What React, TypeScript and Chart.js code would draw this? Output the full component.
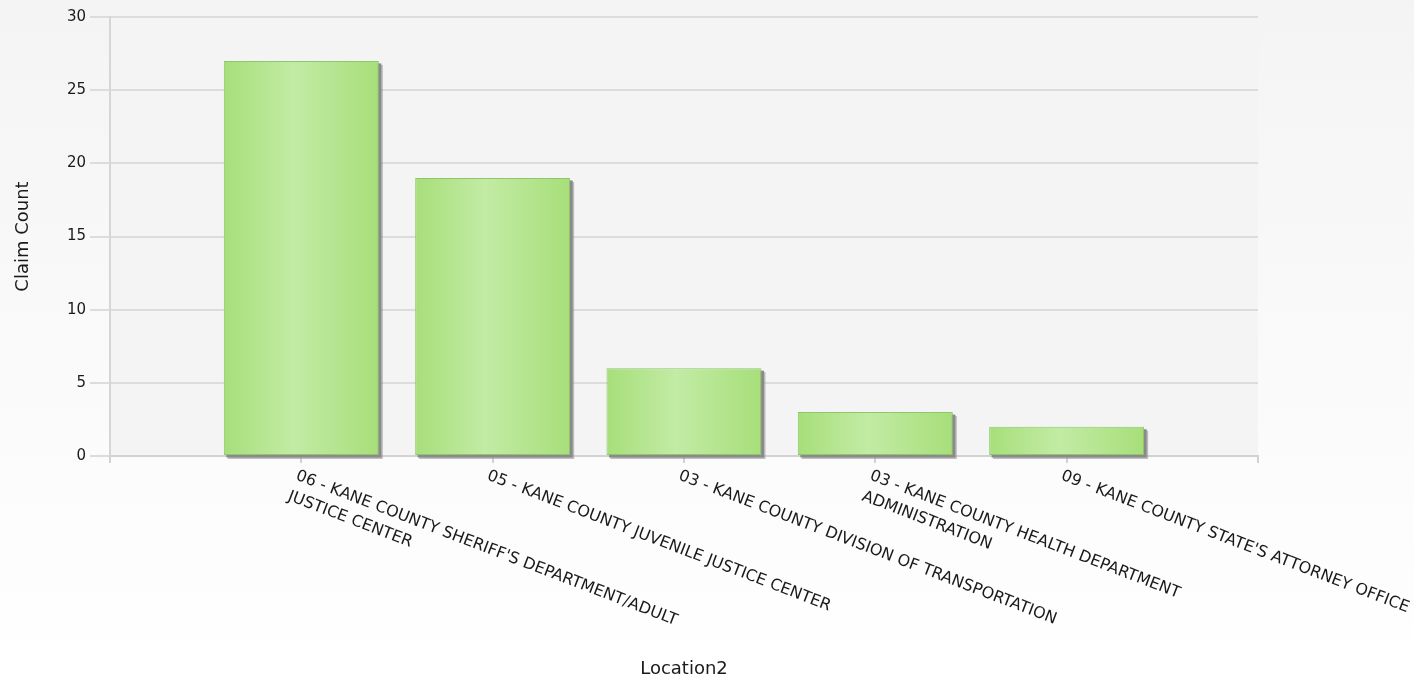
import React, { useEffect, useRef } from "react";
import { Chart, registerables } from "chart.js";

Chart.register(...registerables);

const categories: string[][] = [
  ["06 - KANE COUNTY SHERIFF'S DEPARTMENT/ADULT", "JUSTICE CENTER"],
  ["05 - KANE COUNTY JUVENILE JUSTICE CENTER"],
  ["03 - KANE COUNTY DIVISION OF TRANSPORTATION"],
  ["03 - KANE COUNTY HEALTH DEPARTMENT", "ADMINISTRATION"],
  ["09 - KANE COUNTY STATE'S ATTORNEY OFFICE"],
];
const claimCounts: number[] = [27, 19, 6, 3, 2];
const yTicks = { min: 0, max: 30, step: 5 };
const yTitle = "Claim Count";
const xTitle = "Location2";

const FONT = '"DejaVu Sans", Verdana, sans-serif';
const TEXT = "#1a1a1a";
const BAR_RATIO = 0.9 * 0.9;

const bgPlugin = {
  id: "bgPlugin",
  beforeDraw(chart: any) {
    const { ctx, width, height, chartArea } = chart;
    ctx.save();
    const g = ctx.createLinearGradient(0, 0, 0, height);
    g.addColorStop(0, "#f4f4f4");
    g.addColorStop(1, "#ffffff");
    ctx.fillStyle = g;
    ctx.fillRect(0, 0, width, height);
    ctx.fillStyle = "#f4f4f4";
    ctx.fillRect(chartArea.left, chartArea.top, chartArea.right - chartArea.left, chartArea.bottom - chartArea.top);
    ctx.restore();
  },
};

const shadowPlugin = {
  id: "shadowPlugin",
  beforeDatasetsDraw(chart: any) {
    const { ctx } = chart;
    const meta = chart.getDatasetMeta(0);
    ctx.save();
    meta.data.forEach((el: any, i: number) => {
      const v = chart.data.datasets[0].data[i];
      if (v == null) return;
      const { x, y, base, width } = el.getProps(["x", "y", "base", "width"], true);
      const left = x - width / 2;
      ctx.fillStyle = "rgba(140,140,140,0.55)";
      ctx.fillRect(left + 4, y + 4, width, base - y);
      ctx.fillStyle = "#8a8a8a";
      ctx.fillRect(left + 2.5, y + 2.5, width, base - y);
    });
    ctx.restore();
  },
};

const xLabelPlugin = {
  id: "xLabelPlugin",
  afterDraw(chart: any) {
    const { ctx } = chart;
    const xs = chart.scales.x;
    const bottom = chart.chartArea.bottom;
    ctx.save();
    ctx.font = `16px ${FONT}`;
    ctx.fillStyle = TEXT;
    ctx.textAlign = "left";
    ctx.textBaseline = "top";
    categories.forEach((lines, i) => {
      const px = xs.getPixelForValue(i + 1);
      ctx.save();
      ctx.translate(px - 2, bottom + 12);
      ctx.rotate((21 * Math.PI) / 180);
      lines.forEach((line, j) => {
        ctx.fillText(line, 0, j * 22);
      });
      ctx.restore();
    });
    ctx.restore();
  },
};

export default function App() {
  const ref = useRef<HTMLCanvasElement | null>(null);

  useEffect(() => {
    if (!ref.current) return;
    const labels = ["", ...categories.map((c) => c.join(" ")), ""];
    const data = [null, ...claimCounts, null];
    const chart = new Chart(ref.current, {
      type: "bar",
      data: {
        labels,
        datasets: [
          {
            data,
            barPercentage: 0.9,
            categoryPercentage: 0.9,
            borderWidth: 1,
            borderColor: "#8dc76a",
            borderSkipped: false,
            backgroundColor: (c: any) => {
              const ch = c.chart;
              const xs = ch.scales?.x;
              if (!xs || c.dataIndex == null) return "#b3e58e";
              const cx = xs.getPixelForValue(c.dataIndex);
              const w = Math.abs(xs.getPixelForValue(1) - xs.getPixelForValue(0)) * BAR_RATIO;
              if (!isFinite(cx) || !isFinite(w) || w <= 0) return "#b3e58e";
              const g = ch.ctx.createLinearGradient(cx - w / 2, 0, cx + w / 2, 0);
              g.addColorStop(0, "#a7df7a");
              g.addColorStop(0.45, "#c2eba4");
              g.addColorStop(1, "#a7df7a");
              return g;
            },
          } as any,
        ],
      },
      options: {
        animation: false,
        responsive: false,
        maintainAspectRatio: false,
        layout: { padding: { top: 17, right: 156, left: 0, bottom: 0 } },
        plugins: { legend: { display: false }, tooltip: { enabled: false } },
        scales: {
          x: {
            type: "category",
            offset: false,
            grid: {
              offset: false,
              drawOnChartArea: false,
              drawTicks: true,
              tickLength: 7,
              color: "#d2d2d2",
              lineWidth: 2,
            },
            border: { display: true, color: "#d2d2d2", width: 2 },
            ticks: { callback: () => "", autoSkip: false, maxRotation: 0, minRotation: 0 },
            title: {
              display: true,
              text: xTitle,
              color: TEXT,
              font: { family: FONT, size: 18 },
              padding: { top: 0, bottom: 3 },
            },
            afterFit: (s: any) => {
              s.height = 227;
            },
          },
          y: {
            min: yTicks.min,
            max: yTicks.max,
            ticks: {
              stepSize: yTicks.step,
              color: TEXT,
              font: { family: FONT, size: 15 },
              padding: 4,
            },
            grid: { color: "#dcdcdc", lineWidth: 2, tickLength: 20, drawTicks: true },
            border: { display: true, color: "#d6d6d6", width: 2 },
            title: {
              display: true,
              text: yTitle,
              color: TEXT,
              font: { family: FONT, size: 18 },
              padding: { top: 13, bottom: 0 },
            },
            afterFit: (s: any) => {
              s.width = 110;
            },
          },
        },
      } as any,
      plugins: [bgPlugin, shadowPlugin, xLabelPlugin],
    });
    return () => chart.destroy();
  }, []);

  return (
    <div style={{ position: "absolute", left: 0, top: 0, width: 1414, height: 683 }}>
      <canvas ref={ref} width={1414} height={683} style={{ width: 1414, height: 683, display: "block" }} />
    </div>
  );
}
